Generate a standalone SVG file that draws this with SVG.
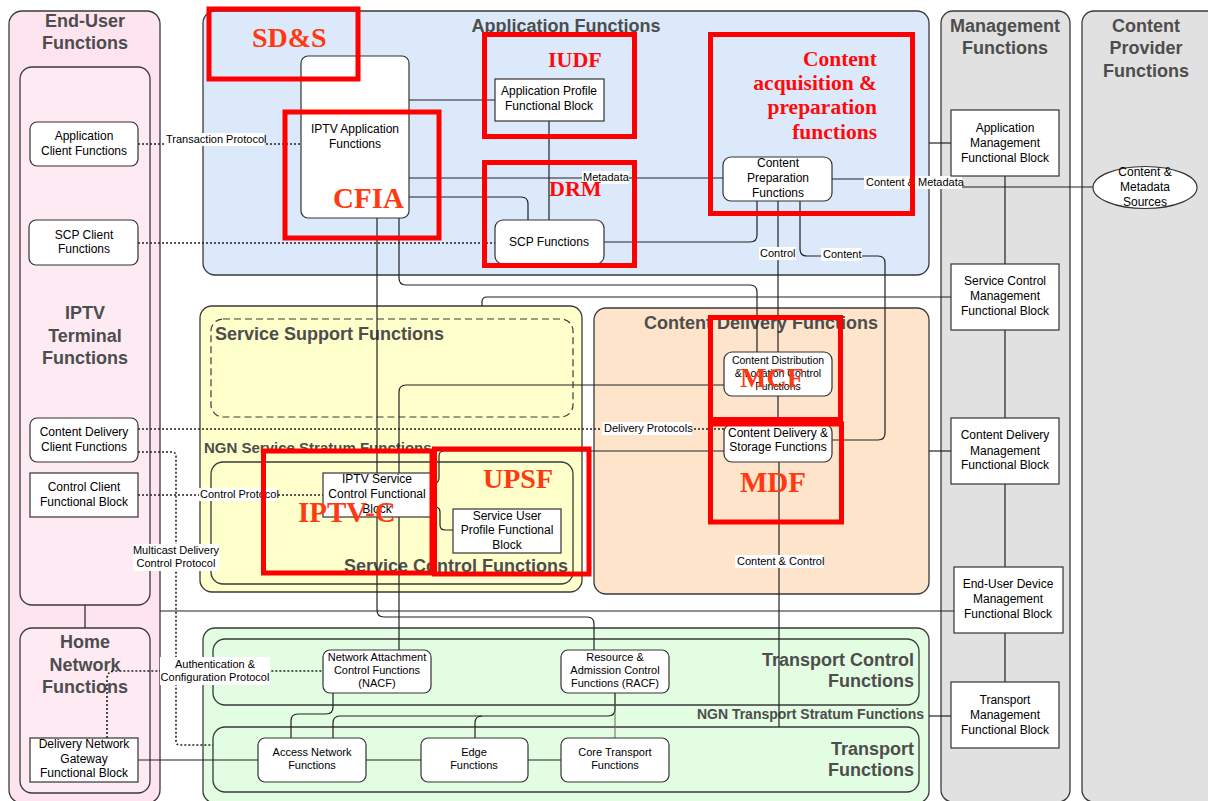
<svg xmlns="http://www.w3.org/2000/svg" width="1208" height="801" viewBox="0 0 1208 801">
<defs>
<style>
.ct{stroke:#3a3a3a;stroke-width:1.3}
.ti{font-family:"Liberation Sans",Arial,sans-serif;font-weight:bold;font-size:18px;fill:#4d4d4d}
.mid{text-anchor:middle}
.end{text-anchor:end}
.n{fill:#fff;stroke:#333;stroke-width:1.2}
.t{font-family:"Liberation Sans",Arial,sans-serif;font-size:12px;fill:#000;text-anchor:middle}
.s{font-size:11px}
.c{fill:none;stroke:#222;stroke-width:1.2}
.d{fill:none;stroke:#222;stroke-width:1.6;stroke-dasharray:2 2}
.lb{font-family:"Liberation Sans",Arial,sans-serif;font-size:11px;fill:#000}
.bg{fill:#fff}
.rb{fill:none;stroke:#ff0000;stroke-width:5}
.rt{font-family:"Liberation Serif","Times New Roman",serif;font-weight:bold;fill:#ff3a12}
.rr{font-family:"Liberation Serif","Times New Roman",serif;font-weight:bold;fill:#ff0a0a}
</style>
</defs>
<rect x="0" y="0" width="1208" height="801" fill="#fff"/>

<!-- containers -->
<g id="end-user-functions">
<rect x="9" y="11" width="151" height="792" rx="13" fill="#fde4ef" class="ct"/>
<text class="ti mid" x="85" y="27">End-User</text>
<text class="ti mid" x="85" y="49">Functions</text>
</g>
<g id="iptv-terminal-functions">
<rect x="20" y="67" width="130" height="538" rx="12" fill="#fdeaf3" class="ct"/>
<text class="ti mid" x="85" y="319">IPTV</text>
<text class="ti mid" x="85" y="342">Terminal</text>
<text class="ti mid" x="85" y="364">Functions</text>
</g>
<g id="home-network-functions">
<rect x="20" y="628" width="130" height="165" rx="12" fill="#fdeaf3" class="ct"/>
<text class="ti mid" x="85" y="648">Home</text>
<text class="ti mid" x="85" y="671">Network</text>
<text class="ti mid" x="85" y="693">Functions</text>
</g>
<g id="application-functions">
<rect x="203" y="11" width="726" height="264" rx="12" fill="#dbe9fb" class="ct"/>
<text class="ti mid" x="566" y="32">Application Functions</text>
</g>
<g id="management-functions">
<rect x="941" y="11" width="129" height="791" rx="12" fill="#e1e1e1" class="ct"/>
<text class="ti mid" x="1005" y="32">Management</text>
<text class="ti mid" x="1005" y="54">Functions</text>
</g>
<g id="content-provider-functions">
<rect x="1082" y="11" width="140" height="791" rx="12" fill="#e1e1e1" class="ct"/>
<text class="ti mid" x="1146" y="32">Content</text>
<text class="ti mid" x="1146" y="54">Provider</text>
<text class="ti mid" x="1146" y="77">Functions</text>
</g>
<g id="ngn-service-stratum-functions">
<rect x="200" y="306" width="382" height="286" rx="12" fill="#ffffcc" class="ct"/>
<rect x="211" y="319" width="362" height="98" rx="12" fill="none" stroke="#3a3a3a" stroke-width="1.2" stroke-dasharray="7 4"/>
<text class="ti" x="215" y="340">Service Support Functions</text>
<text class="ti" x="204" y="453" style="font-size:15px">NGN Service Stratum Functions</text>
<rect x="211" y="462" width="362" height="122" rx="12" fill="none" class="ct"/>
<text class="ti end" x="568" y="572">Service Control Functions</text>
</g>
<g id="content-delivery-functions">
<rect x="594" y="308" width="335" height="286" rx="12" fill="#fde4cb" class="ct"/>
<text class="ti mid" x="761" y="329">Content Delivery Functions</text>
</g>
<g id="ngn-transport-stratum-functions">
<rect x="203" y="628" width="726" height="175" rx="12" fill="#e2fde2" class="ct"/>
<rect x="213" y="639" width="706" height="66" rx="12" fill="none" class="ct"/>
<text class="ti end" x="914" y="666">Transport Control</text>
<text class="ti end" x="914" y="687">Functions</text>
<text class="ti end" x="924" y="719" style="font-size:14px">NGN Transport Stratum Functions</text>
<rect x="213" y="727" width="706" height="65" rx="12" fill="none" class="ct"/>
<text class="ti end" x="914" y="755">Transport</text>
<text class="ti end" x="914" y="776">Functions</text>
</g>

<!-- connectors -->
<g id="connectors">
<path class="c" d="M85,605 V628"/>
<path class="d" d="M138,144 H301"/>
<path class="d" d="M138,243 H495"/>
<path class="c" d="M409,100 H495"/>
<path class="c" d="M549,121 V220"/>
<path class="c" d="M409,178 H723"/>
<path class="c" d="M409,197 H521 Q528,197 528,204 V220"/>
<path class="c" d="M604,242 H750 Q757,242 757,235 V201"/>
<path class="c" d="M832,179 H905 V187 H1093"/>
<path class="c" d="M929,143 H951"/>
<path class="c" d="M778,201 V352"/>
<path class="c" d="M800,201 V249 Q800,256 807,256 H878 Q885,256 885,263 V433 Q885,440 878,440 H832"/>
<path class="c" d="M399,218 V278 Q399,285 406,285 H750 Q757,285 757,292 V352"/>
<path class="c" d="M724,385 H406 Q399,385 399,392 V650"/>
<path class="c" d="M778,396 V424"/>
<path class="c" d="M779,462 V727"/>
<path class="d" d="M138,429 H724"/>
<path class="d" d="M138,452 H172 Q176,452 176,456 V741 Q176,745 180,745 H213"/>
<path class="d" d="M138,495 H323"/>
<path class="c" d="M431,483 H434 Q439,483 439,478 V456 Q439,451 444,451 H724"/>
<path class="c" d="M431,507 H435 Q440,507 440,512 V525 Q440,530 445,530 H453"/>
<path class="c" d="M482,306 V302 Q482,297 487,297 H951"/>
<path class="c" d="M929,451 H951"/>
<path class="c" d="M160,611 H954"/>
<path class="c" d="M929,716 H951"/>
<path class="c" d="M377,218 V610 Q377,617 384,617 H587 Q594,617 594,624 V650"/>
<path class="d" d="M107,738 V679 Q107,671 115,671 H323"/>
<path class="c" d="M138,760 H258"/>
<path class="c" d="M366,760 H421"/>
<path class="c" d="M528,760 H561"/>
<path class="c" d="M333,693 V707 Q333,714 326,714 H298 Q291,714 291,721 V738"/>
<path class="c" d="M333,738 V723 Q333,716 340,716 H608 Q615,716 615,709 V693"/>
<path class="c" d="M475,738 V723 Q475,716 482,716"/>
<path d="M615,693 V738" fill="none" stroke="#666" stroke-width="1"/>
<path class="c" d="M1005,176 V264 M1005,330 V418 M1005,484 V567 M1005,633 V682"/>
<!-- labels -->
<rect class="bg" x="164" y="133" width="100" height="13"/>
<text class="lb" x="166" y="143">Transaction Protocol</text>
<rect class="bg" x="582" y="171" width="47" height="13"/>
<text class="lb" x="583" y="181">Metadata</text>
<rect class="bg" x="864" y="176" width="98" height="13"/>
<text class="lb" x="866" y="186">Content &amp; Metadata</text>
<rect class="bg" x="759" y="247" width="37" height="13"/>
<text class="lb" x="760" y="257">Control</text>
<rect class="bg" x="821" y="248" width="41" height="13"/>
<text class="lb" x="823" y="258">Content</text>
<rect class="bg" x="602" y="422" width="90" height="13"/>
<text class="lb" x="604" y="432">Delivery Protocols</text>
<rect class="bg" x="133" y="544" width="86" height="27"/>
<text class="lb mid" x="176" y="554">Multicast Delivery</text>
<text class="lb mid" x="176" y="567">Control Protocol</text>
<rect class="bg" x="199" y="488" width="79" height="13"/>
<text class="lb" x="200" y="498">Control Protocol</text>
<rect class="bg" x="735" y="555" width="89" height="13"/>
<text class="lb" x="737" y="565">Content &amp; Control</text>
<rect class="bg" x="160" y="657" width="110" height="28"/>
<text class="lb mid" x="215" y="668">Authentication &amp;</text>
<text class="lb mid" x="215" y="681">Configuration Protocol</text>
</g>

<!-- nodes -->
<g id="application-client-functions"><rect class="n" x="30" y="122" width="108" height="44" rx="7"/><text class="t" x="84" y="140">Application</text><text class="t" x="84" y="155">Client Functions</text></g>
<g id="scp-client-functions"><rect class="n" x="29" y="220" width="109" height="45" rx="7"/><text class="t" x="84" y="239">SCP Client</text><text class="t" x="84" y="253">Functions</text></g>
<g id="content-delivery-client-functions"><rect class="n" x="30" y="418" width="108" height="44" rx="7"/><text class="t" x="84" y="436">Content Delivery</text><text class="t" x="84" y="451">Client Functions</text></g>
<g id="control-client-functional-block"><rect class="n" x="30" y="473" width="108" height="44"/><text class="t" x="84" y="491">Control Client</text><text class="t" x="84" y="506">Functional Block</text></g>
<g id="delivery-network-gateway"><rect class="n" x="30" y="738" width="108" height="44"/><text class="t" x="84" y="748">Delivery Network</text><text class="t" x="84" y="763">Gateway</text><text class="t" x="84" y="777">Functional Block</text></g>
<g id="iptv-application-functions"><rect class="n" x="301" y="56" width="108" height="162" rx="7"/><text class="t" x="355" y="133">IPTV Application</text><text class="t" x="355" y="148">Functions</text></g>
<g id="application-profile-functional-block"><rect class="n" x="495" y="79" width="109" height="42"/><text class="t" x="549" y="95">Application Profile</text><text class="t" x="549" y="110">Functional Block</text></g>
<g id="scp-functions"><rect class="n" x="495" y="220" width="109" height="44" rx="8"/><text class="t" x="549" y="246">SCP Functions</text></g>
<g id="content-preparation-functions"><rect class="n" x="723" y="157" width="109" height="44" rx="8"/><text class="t" x="778" y="167">Content</text><text class="t" x="778" y="182">Preparation</text><text class="t" x="778" y="197">Functions</text></g>
<g id="content-distribution-location-control"><rect class="n" x="724" y="352" width="108" height="44" rx="8"/><text class="t" x="778" y="364" style="font-size:10.5px">Content Distribution</text><text class="t" x="778" y="377" style="font-size:10.5px">&amp; Location Control</text><text class="t" x="778" y="390" style="font-size:10.5px">Functions</text></g>
<g id="content-delivery-storage-functions"><rect class="n" x="724" y="424" width="108" height="38" rx="8"/><text class="t" x="778" y="437">Content Delivery &amp;</text><text class="t" x="778" y="451">Storage Functions</text></g>
<g id="iptv-service-control-functional-block"><rect class="n" x="323" y="473" width="108" height="44"/><text class="t" x="377" y="483">IPTV Service</text><text class="t" x="377" y="498">Control Functional</text><text class="t" x="377" y="513">Block</text></g>
<g id="service-user-profile-functional-block"><rect class="n" x="453" y="509" width="108" height="44"/><text class="t" x="507" y="520">Service User</text><text class="t" x="507" y="534">Profile Functional</text><text class="t" x="507" y="549">Block</text></g>
<g id="nacf"><rect class="n" x="323" y="650" width="108" height="43" rx="7"/><text class="t s" x="377" y="661">Network Attachment</text><text class="t s" x="377" y="674">Control Functions</text><text class="t s" x="377" y="687">(NACF)</text></g>
<g id="racf"><rect class="n" x="561" y="650" width="108" height="43" rx="7"/><text class="t s" x="615" y="661">Resource &amp;</text><text class="t s" x="615" y="674">Admission Control</text><text class="t s" x="615" y="687">Functions (RACF)</text></g>
<g id="access-network-functions"><rect class="n" x="258" y="738" width="108" height="44" rx="7"/><text class="t s" x="312" y="756">Access Network</text><text class="t s" x="312" y="769">Functions</text></g>
<g id="edge-functions"><rect class="n" x="421" y="738" width="107" height="44" rx="7"/><text class="t s" x="474" y="756">Edge</text><text class="t s" x="474" y="769">Functions</text></g>
<g id="core-transport-functions"><rect class="n" x="561" y="738" width="108" height="44" rx="7"/><text class="t s" x="615" y="756">Core Transport</text><text class="t s" x="615" y="769">Functions</text></g>
<g id="application-management"><rect class="n" x="951" y="110" width="108" height="66"/><text class="t" x="1005" y="132">Application</text><text class="t" x="1005" y="147">Management</text><text class="t" x="1005" y="162">Functional Block</text></g>
<g id="service-control-management"><rect class="n" x="951" y="264" width="108" height="66"/><text class="t" x="1005" y="285">Service Control</text><text class="t" x="1005" y="300">Management</text><text class="t" x="1005" y="315">Functional Block</text></g>
<g id="content-delivery-management"><rect class="n" x="951" y="418" width="108" height="66"/><text class="t" x="1005" y="439">Content Delivery</text><text class="t" x="1005" y="455">Management</text><text class="t" x="1005" y="469">Functional Block</text></g>
<g id="end-user-device-management"><rect class="n" x="954" y="567" width="109" height="66"/><text class="t" x="1008" y="588">End-User Device</text><text class="t" x="1008" y="603">Management</text><text class="t" x="1008" y="618">Functional Block</text></g>
<g id="transport-management"><rect class="n" x="951" y="682" width="108" height="66"/><text class="t" x="1005" y="704">Transport</text><text class="t" x="1005" y="719">Management</text><text class="t" x="1005" y="734">Functional Block</text></g>
<g id="content-metadata-sources"><ellipse class="n" cx="1145" cy="187.5" rx="52" ry="21"/><text class="t" x="1145" y="176">Content &amp;</text><text class="t" x="1145" y="191">Metadata</text><text class="t" x="1145" y="206">Sources</text></g>

<!-- red annotations -->
<g id="annotations">
<rect class="rb" x="209" y="9" width="149" height="70"/>
<text class="rt" x="252" y="47" font-size="28">SD&amp;S</text>
<rect class="rb" x="285" y="112" width="154" height="126"/>
<text class="rt" x="333" y="208" font-size="29">CFIA</text>
<rect class="rb" x="484.5" y="34.5" width="150" height="102"/>
<text class="rr" x="548" y="67" font-size="22">IUDF</text>
<rect class="rb" x="484.5" y="162.5" width="150" height="103"/>
<text class="rr" x="549" y="196" font-size="22">DRM</text>
<rect class="rb" x="710.5" y="34.5" width="202" height="179"/>
<text class="rr end" x="877" y="66" font-size="21.5">Content</text>
<text class="rr end" x="877" y="90" font-size="21.5">acquisition &amp;</text>
<text class="rr end" x="877" y="114" font-size="21.5">preparation</text>
<text class="rr end" x="877" y="139" font-size="21.5">functions</text>
<rect class="rb" x="710.5" y="317.5" width="130" height="102"/>
<text class="rt" x="740" y="387" font-size="28">MCF</text>
<rect class="rb" x="710.5" y="424" width="131" height="98"/>
<text class="rt" x="740" y="492" font-size="29">MDF</text>
<rect class="rb" x="263.5" y="451" width="168.5" height="122"/>
<text class="rt" x="298" y="522" font-size="29">IPTV-C</text>
<rect class="rb" x="434.5" y="449" width="154.5" height="125"/>
<text class="rt" x="483" y="488" font-size="28">UPSF</text>
</g>
</svg>
